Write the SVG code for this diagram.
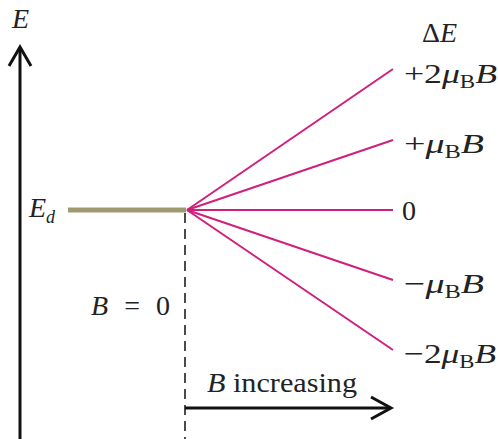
<svg xmlns="http://www.w3.org/2000/svg" width="498" height="439" viewBox="0 0 498 439">
<style>
.t{font-family:"Liberation Serif","DejaVu Serif","Times New Roman",serif;font-size:28px;fill:#222}
.i{font-style:italic}
.s{font-size:18px}
.ax{stroke:#111;stroke-width:3;fill:none}
.pk{stroke:#d0207a;stroke-width:2;fill:none}
</style>
<rect width="498" height="439" fill="#fff"/>
<g id="axes">
<line class="ax" x1="20" y1="439" x2="20" y2="47"/>
<polyline class="ax" points="9,66 20,47 31,66"/>
<text class="t i" x="12" y="28">E</text>
</g>
<g id="level">
<line x1="68" y1="210" x2="186" y2="210" stroke="#a09a70" stroke-width="5"/>
<text class="t i" x="29" y="217">E<tspan class="s" dy="6">d</tspan></text>
</g>
<g id="connectors">
<line x1="185" y1="213" x2="185" y2="439" stroke="#111" stroke-width="1.5" stroke-dasharray="10,6"/>
<line class="pk" x1="187" y1="210" x2="393" y2="69"/>
<line class="pk" x1="187" y1="210" x2="393" y2="140"/>
<line class="pk" x1="187" y1="210" x2="393" y2="210"/>
<line class="pk" x1="187" y1="210" x2="393" y2="280"/>
<line class="pk" x1="187" y1="210" x2="393" y2="350"/>
<line class="ax" x1="185" y1="408" x2="391" y2="408"/>
<polyline class="ax" points="371,397 391,408 371,419"/>
</g>
<g id="labels">
<text class="t" x="422" y="42">Δ<tspan class="i">E</tspan></text>
<text class="t" x="404" y="83" textLength="93" lengthAdjust="spacingAndGlyphs">+2<tspan class="i">μ</tspan><tspan class="s" dy="5">B</tspan><tspan class="i" dy="-5">B</tspan></text>
<text class="t" x="404" y="153" textLength="80" lengthAdjust="spacingAndGlyphs">+<tspan class="i">μ</tspan><tspan class="s" dy="5">B</tspan><tspan class="i" dy="-5">B</tspan></text>
<text class="t" x="402" y="220">0</text>
<text class="t" x="404" y="293" textLength="80" lengthAdjust="spacingAndGlyphs">−<tspan class="i">μ</tspan><tspan class="s" dy="5">B</tspan><tspan class="i" dy="-5">B</tspan></text>
<text class="t" x="404" y="363" textLength="92" lengthAdjust="spacingAndGlyphs">−2<tspan class="i">μ</tspan><tspan class="s" dy="5">B</tspan><tspan class="i" dy="-5">B</tspan></text>
<text class="t" x="91" y="315" textLength="79" lengthAdjust="spacing"><tspan class="i">B</tspan> = 0</text>
<text class="t" x="207" y="392" textLength="150" lengthAdjust="spacingAndGlyphs"><tspan class="i">B</tspan> increasing</text>
</g>
</svg>
